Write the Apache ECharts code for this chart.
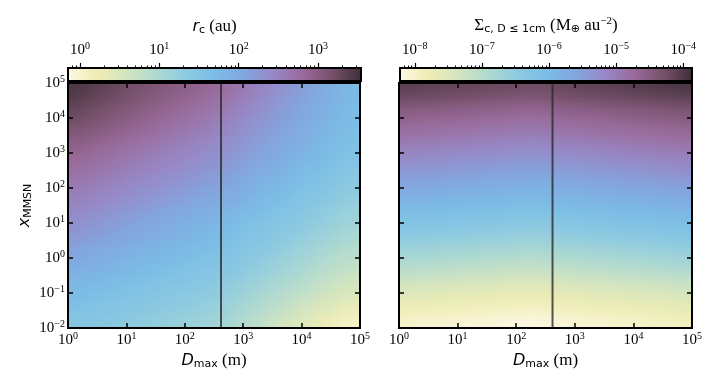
<!DOCTYPE html>
<html>
<head>
<meta charset="utf-8">
<script src="https://cdn.jsdelivr.net/npm/echarts@6/dist/echarts.min.js"></script>
<style>
  html, body { margin: 0; padding: 0; background: #fff; }
  #chart { width: 720px; height: 384px; }
</style>
</head>
<body>
<div id="chart"></div>
<script>
// cell centres, in decades (log10 D in m, log10 x_MMSN)
const logDCenters = [0.125, 0.375, 0.625, 0.875, 1.125, 1.375, 1.625, 1.875, 2.125, 2.375,
  2.625, 2.875, 3.125, 3.375, 3.625, 3.875, 4.125, 4.375, 4.625, 4.875];
const logXCenters = [4.875, 4.625, 4.375, 4.125, 3.875, 3.625, 3.375, 3.125, 2.875, 2.625,
  2.375, 2.125, 1.875, 1.625, 1.375, 1.125, 0.875, 0.625, 0.375, 0.125,
  -0.125, -0.375, -0.625, -0.875, -1.125, -1.375, -1.625, -1.875];

// log10 r_c (au), rows top -> bottom
const logRcRows = [
  [3.45, 3.39, 3.32, 3.25, 3.18, 3.12, 3.05, 2.98, 2.92, 2.85, 2.78, 2.66, 2.55, 2.43, 2.32, 2.21, 2.09, 1.98, 1.86, 1.75],
  [3.39, 3.32, 3.25, 3.19, 3.12, 3.05, 2.98, 2.92, 2.85, 2.78, 2.71, 2.60, 2.49, 2.38, 2.27, 2.17, 2.06, 1.95, 1.84, 1.73],
  [3.32, 3.26, 3.19, 3.12, 3.05, 2.99, 2.92, 2.85, 2.79, 2.72, 2.65, 2.54, 2.44, 2.33, 2.23, 2.13, 2.02, 1.92, 1.81, 1.71],
  [3.26, 3.19, 3.12, 3.06, 2.99, 2.92, 2.85, 2.79, 2.72, 2.65, 2.58, 2.48, 2.38, 2.29, 2.19, 2.09, 1.99, 1.89, 1.79, 1.69],
  [3.18, 3.12, 3.05, 2.98, 2.92, 2.85, 2.79, 2.72, 2.66, 2.59, 2.52, 2.43, 2.33, 2.24, 2.14, 2.05, 1.95, 1.85, 1.76, 1.66],
  [3.09, 3.03, 2.97, 2.90, 2.84, 2.78, 2.72, 2.66, 2.60, 2.53, 2.47, 2.38, 2.28, 2.19, 2.10, 2.01, 1.91, 1.82, 1.73, 1.64],
  [3.00, 2.94, 2.88, 2.83, 2.77, 2.71, 2.65, 2.59, 2.53, 2.47, 2.41, 2.32, 2.23, 2.14, 2.05, 1.97, 1.88, 1.78, 1.70, 1.61],
  [2.91, 2.85, 2.80, 2.74, 2.69, 2.64, 2.58, 2.53, 2.47, 2.42, 2.36, 2.27, 2.19, 2.10, 2.01, 1.93, 1.84, 1.75, 1.66, 1.58],
  [2.83, 2.78, 2.73, 2.67, 2.62, 2.57, 2.51, 2.46, 2.41, 2.36, 2.30, 2.21, 2.13, 2.04, 1.96, 1.87, 1.79, 1.70, 1.62, 1.53],
  [2.77, 2.71, 2.66, 2.61, 2.55, 2.50, 2.45, 2.40, 2.34, 2.29, 2.23, 2.15, 2.07, 1.98, 1.90, 1.81, 1.73, 1.65, 1.56, 1.48],
  [2.70, 2.65, 2.60, 2.54, 2.49, 2.44, 2.38, 2.33, 2.28, 2.23, 2.17, 2.09, 2.00, 1.92, 1.84, 1.75, 1.67, 1.59, 1.51, 1.42],
  [2.64, 2.58, 2.53, 2.48, 2.42, 2.37, 2.32, 2.27, 2.21, 2.16, 2.10, 2.02, 1.94, 1.86, 1.78, 1.70, 1.61, 1.53, 1.45, 1.37],
  [2.57, 2.52, 2.46, 2.41, 2.36, 2.30, 2.25, 2.20, 2.14, 2.09, 2.03, 1.95, 1.87, 1.79, 1.71, 1.63, 1.55, 1.47, 1.39, 1.31],
  [2.51, 2.45, 2.40, 2.34, 2.29, 2.23, 2.18, 2.13, 2.07, 2.02, 1.96, 1.88, 1.80, 1.72, 1.65, 1.57, 1.49, 1.41, 1.33, 1.25],
  [2.44, 2.39, 2.33, 2.27, 2.22, 2.16, 2.11, 2.05, 2.00, 1.94, 1.88, 1.81, 1.73, 1.65, 1.58, 1.50, 1.42, 1.35, 1.27, 1.19],
  [2.37, 2.32, 2.26, 2.21, 2.15, 2.09, 2.04, 1.98, 1.92, 1.87, 1.81, 1.73, 1.66, 1.59, 1.51, 1.44, 1.36, 1.29, 1.21, 1.14],
  [2.30, 2.25, 2.19, 2.13, 2.08, 2.02, 1.97, 1.91, 1.86, 1.80, 1.75, 1.67, 1.60, 1.52, 1.45, 1.37, 1.30, 1.22, 1.15, 1.07],
  [2.22, 2.17, 2.11, 2.06, 2.01, 1.96, 1.90, 1.85, 1.80, 1.75, 1.69, 1.61, 1.54, 1.46, 1.38, 1.31, 1.23, 1.15, 1.08, 1.00],
  [2.14, 2.09, 2.04, 1.99, 1.94, 1.89, 1.84, 1.79, 1.74, 1.69, 1.63, 1.56, 1.48, 1.40, 1.32, 1.24, 1.16, 1.08, 1.01, 0.93],
  [2.06, 2.01, 1.96, 1.92, 1.87, 1.82, 1.77, 1.73, 1.68, 1.63, 1.58, 1.50, 1.42, 1.34, 1.26, 1.18, 1.10, 1.02, 0.94, 0.86],
  [1.98, 1.93, 1.89, 1.84, 1.80, 1.75, 1.71, 1.66, 1.61, 1.57, 1.52, 1.44, 1.35, 1.27, 1.19, 1.11, 1.03, 0.94, 0.86, 0.78],
  [1.91, 1.86, 1.82, 1.77, 1.73, 1.68, 1.64, 1.59, 1.55, 1.50, 1.45, 1.37, 1.29, 1.20, 1.12, 1.03, 0.95, 0.86, 0.78, 0.69],
  [1.83, 1.79, 1.74, 1.70, 1.66, 1.61, 1.57, 1.52, 1.48, 1.44, 1.39, 1.30, 1.22, 1.13, 1.04, 0.96, 0.87, 0.78, 0.70, 0.61],
  [1.76, 1.71, 1.67, 1.63, 1.59, 1.54, 1.50, 1.46, 1.41, 1.37, 1.32, 1.24, 1.15, 1.06, 0.97, 0.88, 0.79, 0.70, 0.61, 0.53],
  [1.69, 1.64, 1.60, 1.56, 1.52, 1.48, 1.43, 1.39, 1.35, 1.31, 1.26, 1.17, 1.07, 0.98, 0.89, 0.79, 0.70, 0.61, 0.51, 0.42],
  [1.62, 1.58, 1.54, 1.50, 1.46, 1.42, 1.37, 1.33, 1.29, 1.25, 1.20, 1.10, 1.00, 0.90, 0.80, 0.69, 0.59, 0.49, 0.39, 0.29],
  [1.56, 1.52, 1.48, 1.44, 1.40, 1.35, 1.31, 1.27, 1.23, 1.19, 1.15, 1.04, 0.93, 0.82, 0.71, 0.60, 0.49, 0.38, 0.27, 0.16],
  [1.49, 1.45, 1.41, 1.37, 1.33, 1.29, 1.25, 1.21, 1.17, 1.13, 1.09, 0.97, 0.85, 0.73, 0.62, 0.50, 0.38, 0.26, 0.14, 0.03]
];

// log10 Sigma (M_earth au^-2), rows top -> bottom
const logSigmaRows = [
  [-4.09, -4.11, -4.13, -4.15, -4.17, -4.19, -4.21, -4.23, -4.25, -4.27, -4.20, -4.17, -4.15, -4.12, -4.10, -4.07, -4.05, -4.02, -4.00, -3.97],
  [-4.24, -4.26, -4.28, -4.30, -4.32, -4.34, -4.36, -4.38, -4.40, -4.42, -4.35, -4.32, -4.30, -4.27, -4.25, -4.22, -4.20, -4.17, -4.15, -4.12],
  [-4.40, -4.42, -4.44, -4.46, -4.48, -4.50, -4.52, -4.54, -4.56, -4.58, -4.51, -4.48, -4.46, -4.43, -4.41, -4.38, -4.36, -4.33, -4.31, -4.28],
  [-4.55, -4.57, -4.59, -4.61, -4.63, -4.65, -4.67, -4.69, -4.71, -4.73, -4.66, -4.63, -4.61, -4.58, -4.56, -4.53, -4.51, -4.48, -4.46, -4.43],
  [-4.69, -4.71, -4.73, -4.75, -4.77, -4.79, -4.81, -4.83, -4.85, -4.87, -4.80, -4.77, -4.75, -4.72, -4.70, -4.67, -4.65, -4.62, -4.60, -4.57],
  [-4.82, -4.84, -4.86, -4.88, -4.90, -4.92, -4.94, -4.96, -4.98, -5.00, -4.93, -4.90, -4.88, -4.85, -4.83, -4.80, -4.78, -4.75, -4.73, -4.70],
  [-4.94, -4.96, -4.98, -5.00, -5.02, -5.04, -5.06, -5.08, -5.10, -5.12, -5.05, -5.02, -5.00, -4.97, -4.95, -4.92, -4.90, -4.87, -4.85, -4.82],
  [-5.07, -5.09, -5.11, -5.13, -5.15, -5.17, -5.19, -5.21, -5.23, -5.25, -5.18, -5.15, -5.13, -5.10, -5.08, -5.05, -5.03, -5.00, -4.98, -4.95],
  [-5.20, -5.22, -5.24, -5.26, -5.28, -5.30, -5.32, -5.34, -5.36, -5.38, -5.31, -5.28, -5.26, -5.23, -5.21, -5.18, -5.16, -5.13, -5.11, -5.08],
  [-5.33, -5.35, -5.37, -5.39, -5.41, -5.43, -5.45, -5.47, -5.49, -5.51, -5.44, -5.41, -5.39, -5.36, -5.34, -5.31, -5.29, -5.26, -5.24, -5.21],
  [-5.46, -5.48, -5.50, -5.52, -5.54, -5.56, -5.58, -5.60, -5.62, -5.64, -5.57, -5.54, -5.52, -5.49, -5.47, -5.44, -5.42, -5.39, -5.37, -5.34],
  [-5.59, -5.61, -5.63, -5.65, -5.67, -5.69, -5.71, -5.73, -5.75, -5.77, -5.70, -5.67, -5.65, -5.62, -5.60, -5.57, -5.55, -5.52, -5.50, -5.47],
  [-5.73, -5.75, -5.77, -5.79, -5.81, -5.83, -5.85, -5.87, -5.89, -5.91, -5.84, -5.81, -5.79, -5.76, -5.74, -5.71, -5.69, -5.66, -5.64, -5.61],
  [-5.87, -5.89, -5.91, -5.93, -5.95, -5.97, -5.99, -6.01, -6.03, -6.05, -5.98, -5.95, -5.93, -5.90, -5.88, -5.85, -5.83, -5.80, -5.78, -5.75],
  [-6.00, -6.02, -6.04, -6.06, -6.08, -6.10, -6.12, -6.14, -6.16, -6.18, -6.11, -6.08, -6.06, -6.03, -6.01, -5.98, -5.96, -5.93, -5.91, -5.88],
  [-6.14, -6.16, -6.18, -6.20, -6.22, -6.24, -6.26, -6.28, -6.30, -6.32, -6.25, -6.22, -6.20, -6.17, -6.15, -6.12, -6.10, -6.07, -6.05, -6.02],
  [-6.29, -6.31, -6.33, -6.35, -6.37, -6.39, -6.41, -6.43, -6.45, -6.47, -6.40, -6.37, -6.35, -6.32, -6.30, -6.27, -6.25, -6.22, -6.20, -6.17],
  [-6.44, -6.46, -6.48, -6.50, -6.52, -6.54, -6.56, -6.58, -6.60, -6.62, -6.55, -6.52, -6.50, -6.47, -6.45, -6.42, -6.40, -6.37, -6.35, -6.32],
  [-6.59, -6.61, -6.63, -6.65, -6.67, -6.69, -6.71, -6.73, -6.75, -6.77, -6.70, -6.67, -6.65, -6.62, -6.60, -6.57, -6.55, -6.52, -6.50, -6.47],
  [-6.74, -6.76, -6.78, -6.80, -6.82, -6.84, -6.86, -6.88, -6.90, -6.92, -6.85, -6.82, -6.80, -6.77, -6.75, -6.72, -6.70, -6.67, -6.65, -6.62],
  [-6.90, -6.92, -6.94, -6.96, -6.98, -7.00, -7.02, -7.04, -7.06, -7.08, -7.01, -6.98, -6.96, -6.93, -6.91, -6.88, -6.86, -6.83, -6.81, -6.78],
  [-7.07, -7.09, -7.11, -7.13, -7.15, -7.17, -7.19, -7.21, -7.23, -7.25, -7.18, -7.15, -7.13, -7.10, -7.08, -7.05, -7.03, -7.00, -6.98, -6.95],
  [-7.25, -7.27, -7.29, -7.31, -7.33, -7.35, -7.37, -7.39, -7.41, -7.43, -7.36, -7.33, -7.31, -7.28, -7.26, -7.23, -7.21, -7.18, -7.16, -7.13],
  [-7.42, -7.44, -7.46, -7.48, -7.50, -7.52, -7.54, -7.56, -7.58, -7.60, -7.53, -7.50, -7.48, -7.45, -7.43, -7.40, -7.38, -7.35, -7.33, -7.30],
  [-7.59, -7.61, -7.63, -7.65, -7.67, -7.69, -7.71, -7.73, -7.75, -7.77, -7.70, -7.67, -7.65, -7.62, -7.60, -7.57, -7.55, -7.52, -7.50, -7.47],
  [-7.74, -7.76, -7.78, -7.80, -7.82, -7.84, -7.86, -7.88, -7.90, -7.92, -7.85, -7.82, -7.80, -7.77, -7.75, -7.72, -7.70, -7.67, -7.65, -7.62],
  [-7.89, -7.91, -7.93, -7.95, -7.97, -7.99, -8.01, -8.03, -8.05, -8.07, -8.00, -7.97, -7.95, -7.92, -7.90, -7.87, -7.85, -7.82, -7.80, -7.77],
  [-8.04, -8.06, -8.08, -8.10, -8.12, -8.14, -8.16, -8.18, -8.20, -8.22, -8.15, -8.12, -8.10, -8.07, -8.05, -8.02, -8.00, -7.97, -7.95, -7.92]
];

// vertical regime line (log10 D, log10 x)
const regimeLogD = [2.62, 2.62];
const regimeLogX = [-2, 5];

// axis ranges and colour bar ranges, in decades
const logDRange = [0, 5];
const logXRange = [-2, 5];
const rcBarRange = [-0.15, 3.54];
const sigmaBarRange = [-8.22, -3.87];
const rcBarTicks = [0, 1, 2, 3];
const sigmaBarTicks = [-8, -7, -6, -5, -4];
const minorMults = [2, 3, 4, 5, 6, 7, 8, 9];

const cmap = ['#fdf8e4', '#efedb4', '#d4e5bf', '#b0dad0', '#8ecbe0', '#7bbde6',
  '#82a6df', '#9788c6', '#9a6a9a', '#76506a', '#3c2e37'];

const SERIF = 'Liberation Serif';
const SANS = 'DejaVu Sans';
const cellHalf = 0.125;
const stripsPerCell = 4;

function toCells(rows) {
  const out = [];
  rows.forEach((row, i) => {
    row.forEach((v, j) => out.push([logDCenters[j], logXCenters[i], v]));
  });
  return out;
}

function minorTicks(range) {
  const out = [];
  for (let k = Math.floor(range[0]) - 1; k <= Math.ceil(range[1]); k++) {
    minorMults.forEach(m => {
      const v = k + Math.log10(m);
      if (v > range[0] && v < range[1]) out.push(v);
    });
  }
  return out;
}

function powLabel(v) {
  const e = Math.round(v);
  return '{b|10}{s|' + (e < 0 ? '\u2212' + (-e) : e) + '}';
}

// colour helpers for gouraud-like shading between cell centres
function rgbOf(c) {
  const p = echarts.color.parse(c);
  return [p[0], p[1], p[2]];
}
function mix(a, b, t) {
  return [a[0] + (b[0] - a[0]) * t, a[1] + (b[1] - a[1]) * t, a[2] + (b[2] - a[2]) * t];
}
function css(c) {
  return 'rgb(' + Math.round(c[0]) + ',' + Math.round(c[1]) + ',' + Math.round(c[2]) + ')';
}

function makeCellRenderer(nRows, nCols) {
  return function (params, api) {
    const idx = params.dataIndexInside;
    const i = Math.floor(idx / nCols);
    const j = idx % nCols;
    const col = (ii, jj) => {
      const r = Math.min(nRows - 1, Math.max(0, ii));
      const c = Math.min(nCols - 1, Math.max(0, jj));
      return rgbOf(api.visual('color', r * nCols + c));
    };
    const corner = (di, dj) => mix(mix(col(i, j), col(i + di, j), 0.5), mix(col(i, j + dj), col(i + di, j + dj), 0.5), 0.5);
    const tl = corner(-1, -1), tr = corner(-1, 1), bl = corner(1, -1), br = corner(1, 1);
    const a = api.coord([api.value(0) - cellHalf, api.value(1) + cellHalf]);
    const b = api.coord([api.value(0) + cellHalf, api.value(1) - cellHalf]);
    const x0 = Math.round(a[0]), x1 = Math.round(b[0]);
    const y0 = Math.round(a[1]), y1 = Math.round(b[1]);
    const children = [];
    for (let k = 0; k < stripsPerCell; k++) {
      const ya = Math.round(y0 + (y1 - y0) * k / stripsPerCell);
      const yb = Math.round(y0 + (y1 - y0) * (k + 1) / stripsPerCell);
      if (yb <= ya) continue;
      const t = (k + 0.5) / stripsPerCell;
      const left = css(mix(tl, bl, t));
      const right = css(mix(tr, br, t));
      children.push({
        type: 'rect',
        shape: { x: x0, y: ya, width: x1 - x0, height: yb - ya },
        style: {
          fill: new echarts.graphic.LinearGradient(0, 0, 1, 0, [
            { offset: 0, color: left }, { offset: 1, color: right }
          ])
        }
      });
    }
    return { type: 'group', children };
  };
}

const labelRich = {
  b: { fontFamily: SERIF, fontSize: 15, color: '#000' },
  s: { fontFamily: SERIF, fontSize: 10, color: '#000', padding: [0, 0, 8, 0] }
};

const nameRich = {
  it: { fontFamily: SANS, fontStyle: 'italic', fontSize: 16, color: '#000' },
  sub: { fontFamily: SANS, fontSize: 11, color: '#000', padding: [7, 0, 0, 0] },
  rm: { fontFamily: SERIF, fontSize: 17, color: '#000' },
  sup: { fontFamily: SERIF, fontSize: 11, color: '#000', padding: [0, 0, 9, 0] }
};

const tickStyle = { color: '#000', width: 1.5 };

function plotXAxis(gridIndex, position, withLabels) {
  return {
    type: 'value', gridIndex, position, min: logDRange[0], max: logDRange[1], interval: 1, z: 6,
    axisLine: { show: false, onZero: false }, splitLine: { show: false },
    axisTick: { show: true, inside: true, length: 5, lineStyle: tickStyle },
    axisLabel: withLabels ? { show: true, margin: 3, formatter: powLabel, rich: labelRich } : { show: false },
    name: withLabels ? '{it|D}{sub|max}{rm| (m)}' : '',
    nameLocation: 'middle', nameGap: 21, nameTextStyle: { rich: nameRich }
  };
}

function plotYAxis(gridIndex, position, withLabels, name) {
  return {
    type: 'value', gridIndex, position, min: logXRange[0], max: logXRange[1], interval: 1, z: 6,
    axisLine: { show: false, onZero: false }, splitLine: { show: false },
    axisTick: { show: true, inside: true, length: 5, lineStyle: tickStyle },
    axisLabel: withLabels ? { show: true, margin: 3, formatter: powLabel, rich: labelRich } : { show: false },
    name: name || '', nameLocation: 'middle', nameGap: 34, nameRotate: 90,
    nameTextStyle: { rich: nameRich }
  };
}

function barMajorAxis(gridIndex, range, ticks, name) {
  return {
    type: 'value', gridIndex, position: 'top', min: range[0], max: range[1], z: 6,
    axisLine: { show: false, onZero: false }, splitLine: { show: false },
    axisTick: { show: true, inside: false, length: 5, customValues: ticks, lineStyle: { color: '#000', width: 1.2 } },
    axisLabel: { show: true, margin: 9, customValues: ticks, formatter: powLabel, rich: labelRich },
    name, nameLocation: 'middle', nameGap: 32, nameTextStyle: { rich: nameRich }
  };
}

function barMinorAxis(gridIndex, range) {
  return {
    type: 'value', gridIndex, position: 'top', min: range[0], max: range[1], z: 6,
    axisLine: { show: false, onZero: false }, splitLine: { show: false },
    axisTick: { show: true, inside: false, length: 2.5, customValues: minorTicks(range), lineStyle: { color: '#000', width: 1 } },
    axisLabel: { show: false }
  };
}

function barGradient() {
  return new echarts.graphic.LinearGradient(0, 0, 1, 0,
    cmap.map((c, i) => ({ offset: i / (cmap.length - 1), color: c })));
}

const chart = echarts.init(document.getElementById('chart'), null, { renderer: 'canvas' });

chart.setOption({
  backgroundColor: '#fff',
  animation: false,
  grid: [
    { left: 68, top: 83, width: 292, height: 245, show: true, backgroundColor: 'transparent', borderColor: '#000', borderWidth: 2, z: 5 },
    { left: 399, top: 83, width: 293, height: 245, show: true, backgroundColor: 'transparent', borderColor: '#000', borderWidth: 2, z: 5 },
    { left: 68, top: 68, width: 293, height: 13, show: true, backgroundColor: barGradient(), borderColor: '#000', borderWidth: 2 },
    { left: 400, top: 68, width: 292, height: 13, show: true, backgroundColor: barGradient(), borderColor: '#000', borderWidth: 2 }
  ],
  xAxis: [
    plotXAxis(0, 'bottom', true),
    plotXAxis(0, 'top', false),
    plotXAxis(1, 'bottom', true),
    plotXAxis(1, 'top', false),
    barMajorAxis(2, rcBarRange, rcBarTicks, '{it|r}{sub|c}{rm| (au)}'),
    barMinorAxis(2, rcBarRange),
    barMajorAxis(3, sigmaBarRange, sigmaBarTicks,
      '{rm|\u03A3}{sub|c, D \u2264 1cm}{rm| (M}{sub|\u2295}{rm| au}{sup|\u22122}{rm|)}'),
    barMinorAxis(3, sigmaBarRange)
  ],
  yAxis: [
    plotYAxis(0, 'left', true, '{it|x}{sub|MMSN}'),
    plotYAxis(0, 'right', false),
    plotYAxis(1, 'left', false),
    plotYAxis(1, 'right', false),
    { type: 'value', gridIndex: 2, min: 0, max: 1, show: false },
    { type: 'value', gridIndex: 3, min: 0, max: 1, show: false }
  ],
  visualMap: [
    { type: 'continuous', show: false, seriesIndex: 0, dimension: 2, min: rcBarRange[0], max: rcBarRange[1], inRange: { color: cmap } },
    { type: 'continuous', show: false, seriesIndex: 2, dimension: 2, min: sigmaBarRange[0], max: sigmaBarRange[1], inRange: { color: cmap } }
  ],
  series: [
    {
      type: 'custom', xAxisIndex: 0, yAxisIndex: 0,
      renderItem: makeCellRenderer(logXCenters.length, logDCenters.length),
      encode: { x: 0, y: 1 }, data: toCells(logRcRows), clip: true, silent: true, z: 1
    },
    {
      type: 'line', xAxisIndex: 0, yAxisIndex: 0, symbol: 'none', silent: true, z: 3,
      data: regimeLogD.map((d, i) => [d, regimeLogX[i]]),
      lineStyle: { color: '#2b2b2b', width: 2, opacity: 0.8 }
    },
    {
      type: 'custom', xAxisIndex: 2, yAxisIndex: 2,
      renderItem: makeCellRenderer(logXCenters.length, logDCenters.length),
      encode: { x: 0, y: 1 }, data: toCells(logSigmaRows), clip: true, silent: true, z: 1
    },
    {
      type: 'line', xAxisIndex: 2, yAxisIndex: 2, symbol: 'none', silent: true, z: 3,
      data: regimeLogD.map((d, i) => [d, regimeLogX[i]]),
      lineStyle: { color: '#2b2b2b', width: 2, opacity: 0.8 }
    }
  ]
});
</script>
</body>
</html>
